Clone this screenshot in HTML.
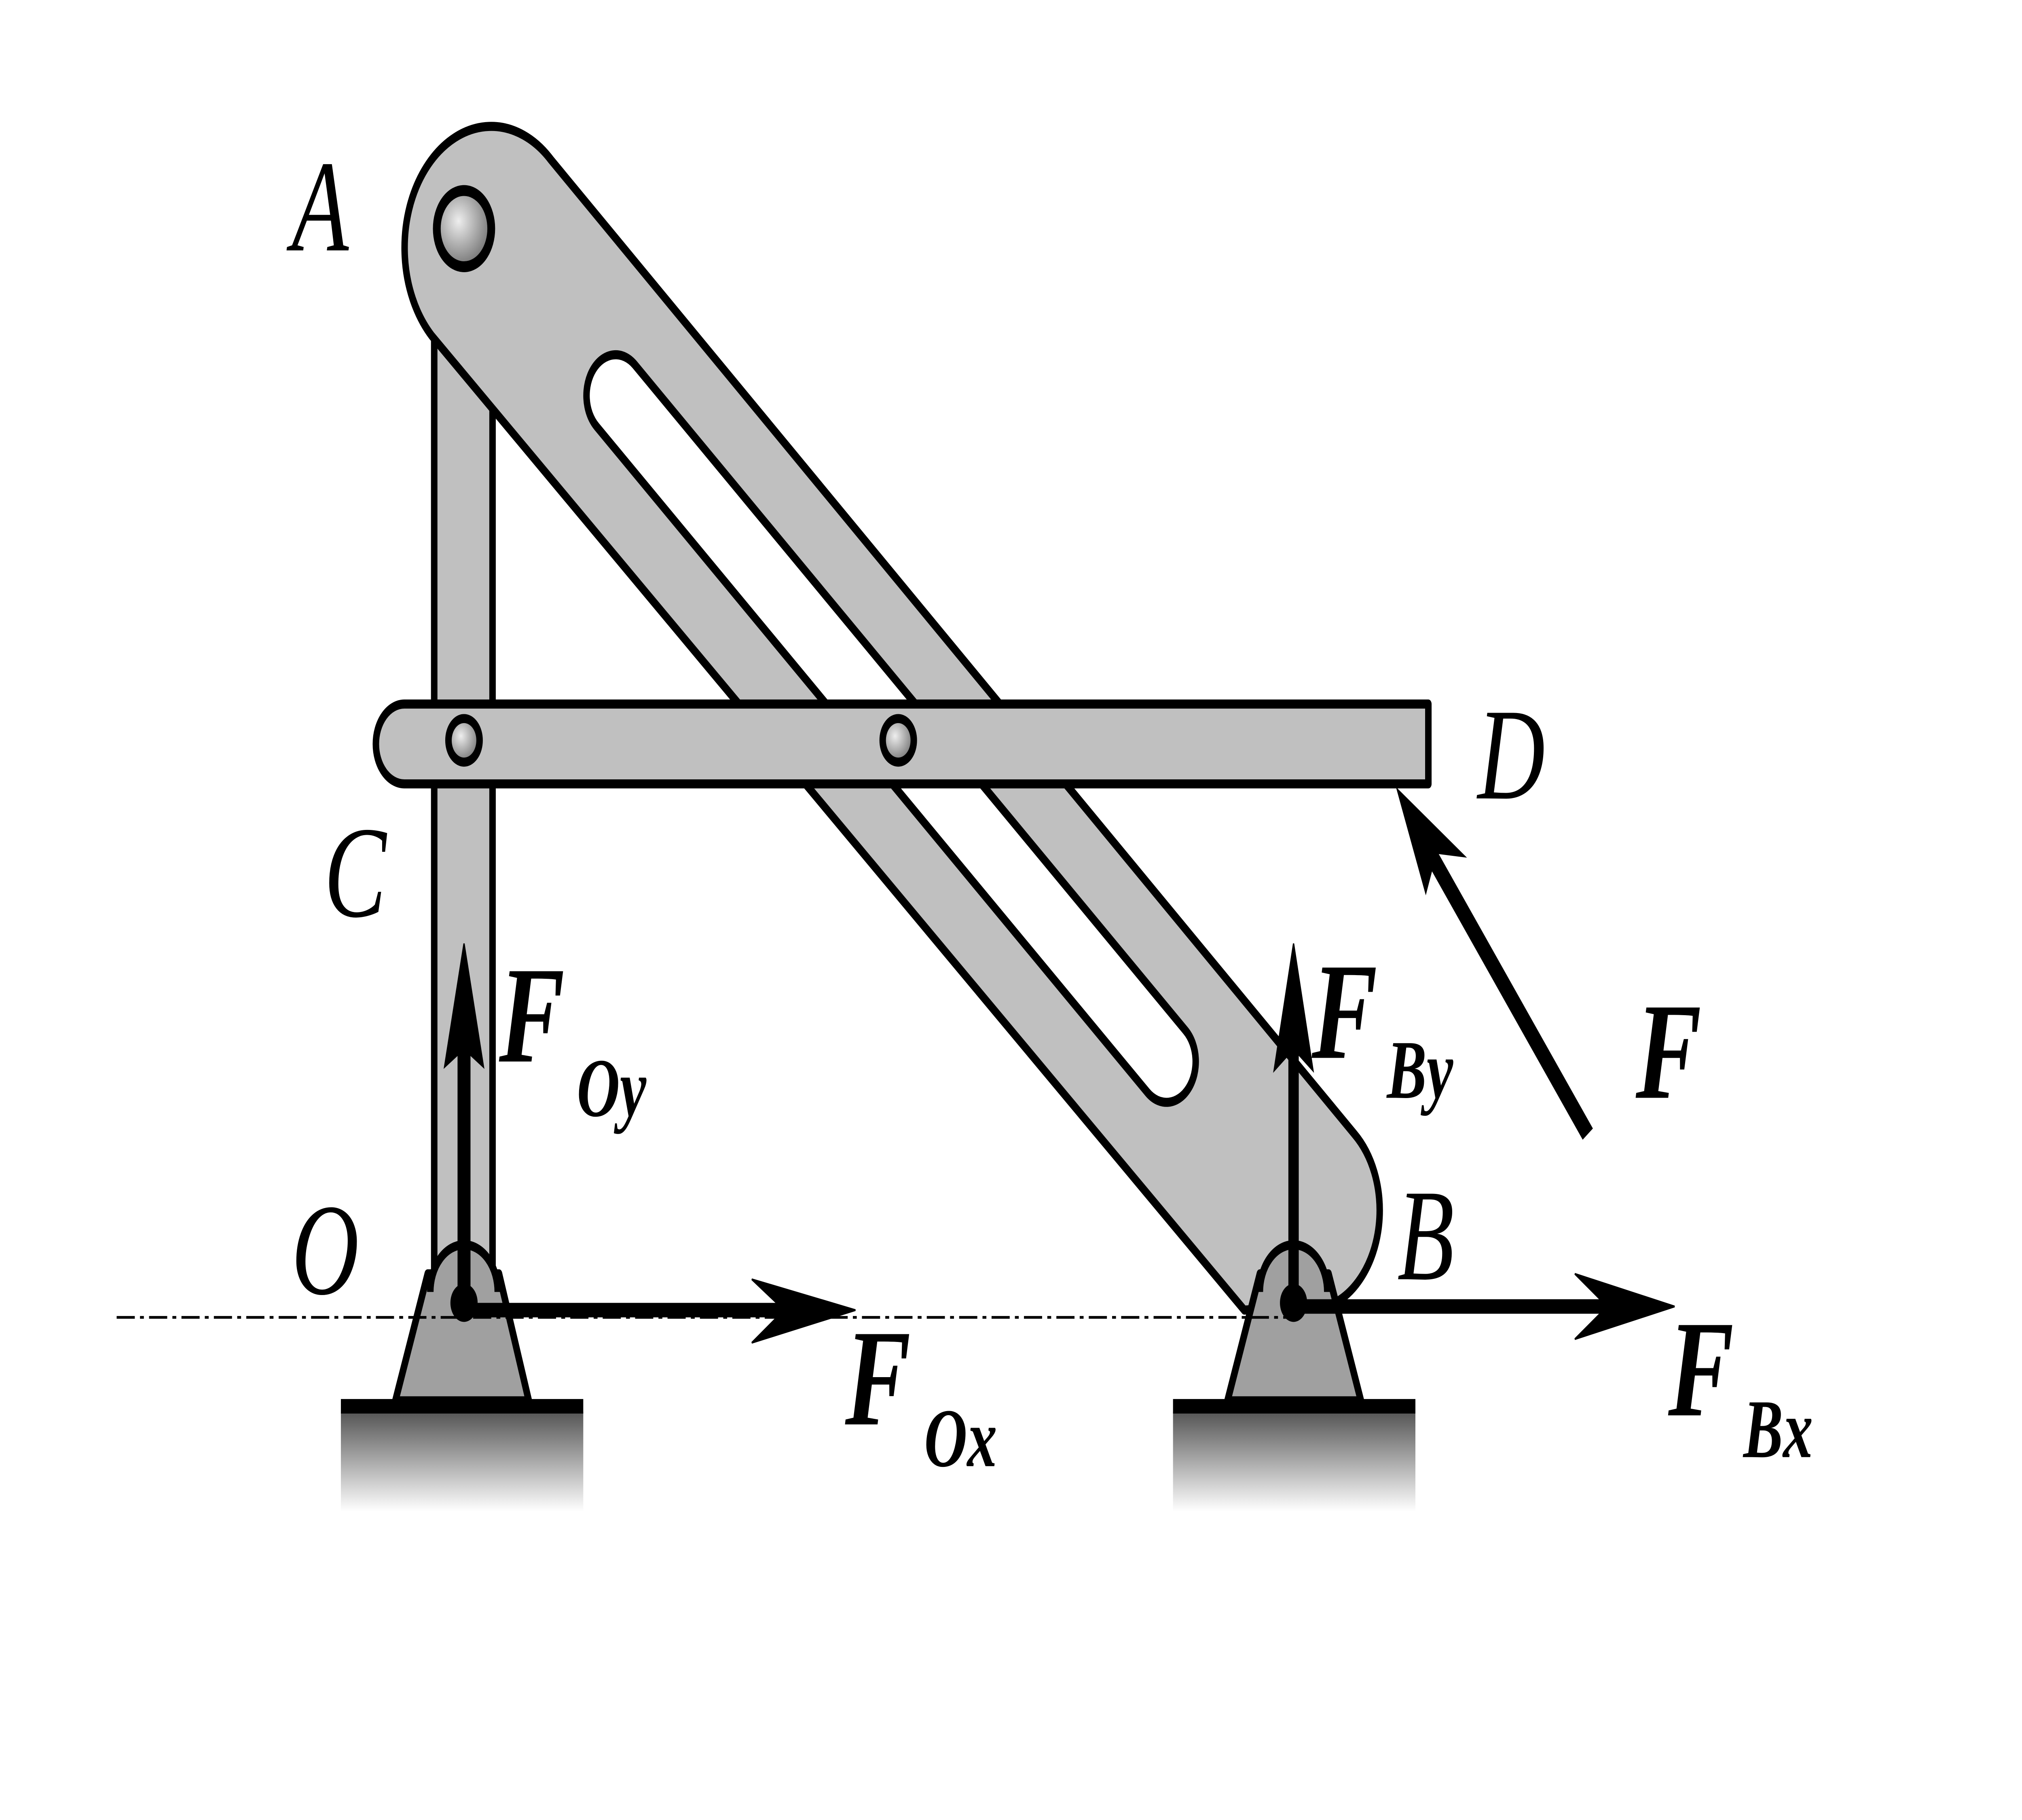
<!DOCTYPE html>
<html><head><style>html,body{margin:0;padding:0;background:#fff;width:100%;height:100%;overflow:hidden}svg{display:block;width:100vw;height:100vh}</style></head>
<body>
<svg viewBox="0 0 1560 1003" preserveAspectRatio="none" xmlns="http://www.w3.org/2000/svg">
<defs>
<radialGradient id="pin" cx="0.4" cy="0.4" r="0.6"><stop offset="0" stop-color="#eee"/><stop offset="1" stop-color="#777"/></radialGradient>
<linearGradient id="gnd" x1="0" y1="0" x2="0" y2="1"><stop offset="0" stop-color="#555"/><stop offset="1" stop-color="#fff"/></linearGradient>
</defs>
<g stroke="#000" stroke-width="5" stroke-linejoin="round">
<rect x="263" y="778" width="187" height="55" fill="url(#gnd)" stroke="none"/>
<rect x="905" y="778" width="187" height="55" fill="url(#gnd)" stroke="none"/>
<line x1="263" y1="775" x2="450" y2="775" stroke-width="8"/>
<line x1="905" y1="775" x2="1092" y2="775" stroke-width="8"/>
<rect x="335" y="180" width="45" height="540" fill="#c0c0c0"/>
<path d="M425,88 L1045,625 A55,55 0 0 1 1030,718 L960,722 L333,185 A52,52 0 0 1 425,88 Z" fill="#c0c0c0"/>
<line x1="475" y1="218" x2="900" y2="585" stroke-width="50" stroke-linecap="round"/>
<line x1="475" y1="218" x2="900" y2="585" stroke-width="40" stroke="#fff" stroke-linecap="round"/>
<path d="M312,388 L1102,388 L1102,432 L312,432 A22,22 0 0 1 312,388 Z" fill="#c0c0c0"/>
<circle cx="358" cy="408" r="12" fill="url(#pin)" stroke-width="5"/>
<circle cx="693" cy="408" r="12" fill="url(#pin)" stroke-width="5"/>
<circle cx="358" cy="126" r="21" fill="url(#pin)" stroke-width="6"/>
<path d="M330,702 L305,772 L408,772 L385,702 Z" fill="#a0a0a0"/>
<path d="M332,712 A26,26 0 0 1 384,712" fill="#a0a0a0"/>
<path d="M972,702 L947,772 L1050,772 L1025,702 Z" fill="#a0a0a0"/>
<path d="M972,712 A26,26 0 0 1 1024,712" fill="#a0a0a0"/>
</g>
<line x1="90" y1="726" x2="1000" y2="726" stroke="#000" stroke-width="1.5" stroke-dasharray="14,4,3,4"/>
<g fill="#000" stroke="#000">
<line x1="358" y1="720" x2="358" y2="575" stroke-width="10"/>
<path d="M358,520 L373,588 L358,578 L343,588 Z"/>
<line x1="358" y1="722" x2="610" y2="722" stroke-width="8"/>
<path d="M660,722 L580,705 L605,722 L580,740 Z"/>
<line x1="998" y1="720" x2="998" y2="575" stroke-width="8"/>
<path d="M998,520 L1013,590 L998,578 L983,590 Z"/>
<line x1="998" y1="720" x2="1245" y2="720" stroke-width="8"/>
<path d="M1292,720 L1215,702 L1240,720 L1215,738 Z"/>
<line x1="1225" y1="625" x2="1100" y2="466" stroke-width="10"/>
<path d="M1078,435 L1130,472 L1108,470 L1100,492 Z"/>
<circle cx="358" cy="718" r="10"/><circle cx="998" cy="718" r="10"/>
</g>
<g font-family="Liberation Serif, serif" font-style="italic" fill="#000">
<text x="225" y="138" font-size="72">A</text>
<text x="250" y="505" font-size="72">C</text>
<text x="225" y="713" font-size="72">O</text>
<text x="1140" y="440" font-size="72">D</text>
<text x="1078" y="705" font-size="72">B</text>
<g font-weight="bold">
<text x="1262" y="605" font-size="76">F</text>
<text x="385" y="585" font-size="76">F</text><text x="445" y="615" font-size="46">Oy</text>
<text x="652" y="785" font-size="76">F</text><text x="713" y="808" font-size="46">Ox</text>
<text x="1012" y="583" font-size="76">F</text><text x="1070" y="605" font-size="46">By</text>
<text x="1287" y="780" font-size="76">F</text><text x="1345" y="803" font-size="46">Bx</text>
</g>
</g>
</svg>
</body></html>
